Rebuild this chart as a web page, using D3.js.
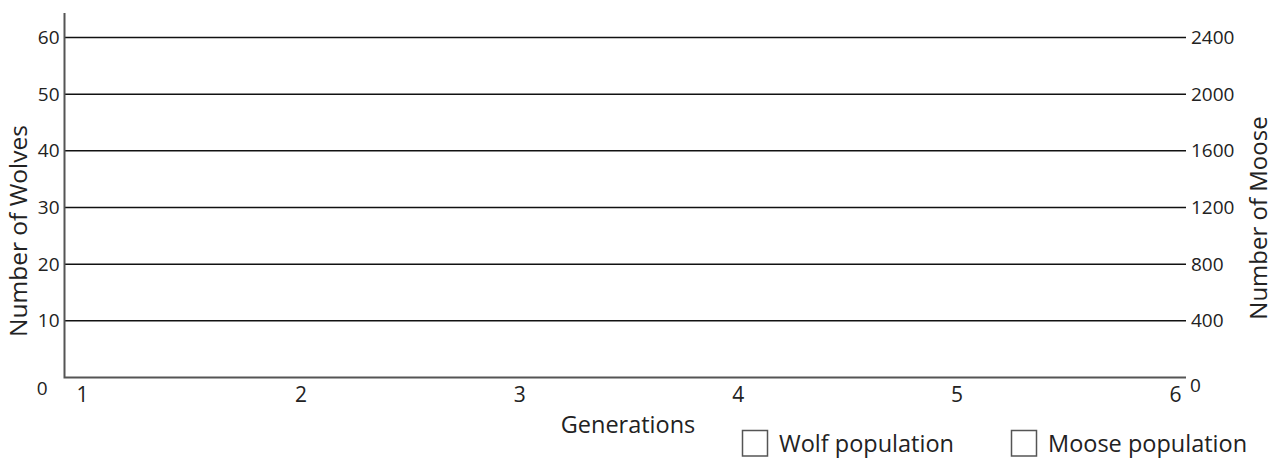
<!DOCTYPE html>
<html>
<head>
<meta charset="utf-8">
<script src="https://cdn.jsdelivr.net/npm/d3@7"></script>
<style>
  html, body { margin: 0; padding: 0; background: #fff; }
  svg { display: block; }
  text { font-family: "Open Sans", "Noto Sans", sans-serif; fill: #222; }
</style>
</head>
<body>
<script>
// ---- data ----
const generations = [1, 2, 3, 4, 5, 6];
const wolfTicks = [0, 10, 20, 30, 40, 50, 60];
const mooseTicks = [0, 400, 800, 1200, 1600, 2000, 2400];
const wolfPopulation = [];   // blank worksheet chart: no values plotted
const moosePopulation = [];  // blank worksheet chart: no values plotted
const legendLabels = ["Wolf population", "Moose population"];
const xTitle = "Generations";
const yLeftTitle = "Number of Wolves";
const yRightTitle = "Number of Moose";

// ---- layout ----
const W = 1273, H = 458;
const plotLeft = 64.5, plotRight = 1186, plotTop = 13;
const yBottom = 377.5, yTop = 37.5;

const svg = d3.select("body").append("svg").attr("width", W).attr("height", H);

const x = d3.scaleLinear().domain([1, 6]).range([82, 1175]);
const yW = d3.scaleLinear().domain([0, 60]).range([yBottom, yTop]);
const yM = d3.scaleLinear().domain([0, 2400]).range([yBottom, yTop]);

// gridlines
svg.append("g").selectAll("line")
  .data(wolfTicks.filter(d => d > 0))
  .join("line")
  .attr("x1", plotLeft).attr("x2", plotRight)
  .attr("y1", d => yW(d)).attr("y2", d => yW(d))
  .attr("stroke", "#111").attr("stroke-width", 1.5);

// axis frame (left + bottom)
svg.append("path")
  .attr("d", `M${plotLeft},${plotTop}V${yBottom}H${plotRight}`)
  .attr("fill", "none").attr("stroke", "#555").attr("stroke-width", 2);

// left axis labels
const leftAxis = svg.append("g")
  .attr("transform", `translate(${plotLeft - 5},0)`)
  .call(d3.axisLeft(yW).tickValues(wolfTicks).tickSize(0).tickPadding(0).tickFormat(d3.format("d")));
leftAxis.select(".domain").remove();
leftAxis.selectAll("text")
  .style("font-size", "19px").attr("fill", "#222")
  .attr("font-family", "Open Sans");
leftAxis.selectAll(".tick").filter(d => d === 0).select("text")
  .attr("x", -12).attr("dy", "0.9em");

// right axis labels
const rightAxis = svg.append("g")
  .attr("transform", `translate(${plotRight + 5},0)`)
  .call(d3.axisRight(yM).tickValues(mooseTicks).tickSize(0).tickPadding(0).tickFormat(d3.format("d")));
rightAxis.select(".domain").remove();
rightAxis.selectAll("text")
  .style("font-size", "19px").attr("fill", "#222")
  .attr("font-family", "Open Sans");
rightAxis.selectAll(".tick").filter(d => d === 0).select("text")
  .attr("x", -1).attr("dy", "0.75em");

// bottom axis labels
const bottomAxis = svg.append("g")
  .attr("transform", `translate(0,${yBottom})`)
  .call(d3.axisBottom(x).tickValues(generations).tickSize(0).tickPadding(10).tickFormat(d3.format("d")));
bottomAxis.select(".domain").remove();
bottomAxis.selectAll("text")
  .style("font-size", "21px").attr("fill", "#222")
  .attr("font-family", "Open Sans");

// axis titles
svg.append("text")
  .attr("x", 628).attr("y", 433)
  .attr("text-anchor", "middle")
  .style("font-size", "23.5px")
  .text(xTitle);

svg.append("text")
  .attr("transform", `translate(27,231) rotate(-90)`)
  .attr("text-anchor", "middle")
  .style("font-size", "24.5px")
  .text(yLeftTitle);

svg.append("text")
  .attr("transform", `translate(1267,218) rotate(-90)`)
  .attr("text-anchor", "middle")
  .style("font-size", "24px")
  .text(yRightTitle);

// legend
const legendX = d3.scaleOrdinal().domain(legendLabels).range([742, 1011]);
const lg = svg.append("g").selectAll("g")
  .data(legendLabels)
  .join("g")
  .attr("transform", d => `translate(${legendX(d)},430)`);
lg.append("rect")
  .attr("x", 0.5).attr("y", 0.5).attr("width", 25).attr("height", 25.5)
  .attr("fill", "#fff").attr("stroke", "#555").attr("stroke-width", 1.5);
lg.append("text")
  .attr("x", 37).attr("y", 21.5)
  .style("font-size", "23.5px")
  .text(d => d);
</script>
</body>
</html>
